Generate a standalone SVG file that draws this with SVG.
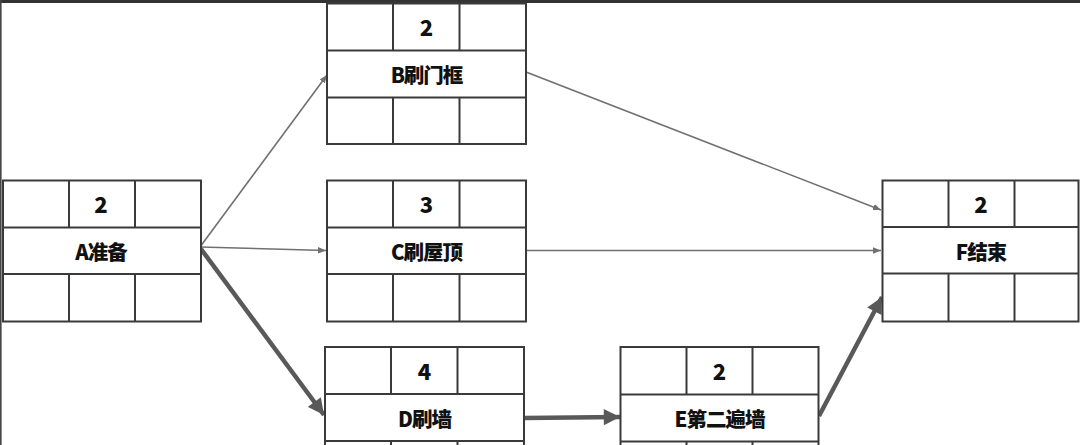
<svg xmlns="http://www.w3.org/2000/svg" width="1080" height="445" viewBox="0 0 1080 445">
<defs>
<style>
.box{fill:#fff;stroke:#3a3a3a;stroke-width:2}
.grid{stroke:#3a3a3a;stroke-width:2;fill:none}
.num{font-family:"Noto Sans CJK SC","Liberation Sans",sans-serif;font-weight:900;font-size:22px;fill:#111;text-anchor:middle;dominant-baseline:central}
.name{font-family:"Noto Sans CJK SC","Liberation Sans",sans-serif;font-weight:900;font-size:20.5px;fill:#111;text-anchor:middle;dominant-baseline:central;letter-spacing:-1px}
.thin{stroke:#707070;stroke-width:1.6;fill:none}
.thick{stroke:#595959;stroke-width:4.5;fill:none}
</style>
<marker id="ah" viewBox="0 0 10 10" refX="10" refY="5" markerWidth="5" markerHeight="5" orient="auto" markerUnits="strokeWidth">
<path d="M0,1 L10,5 L0,9 z" fill="#707070"/>
</marker>
<marker id="ahT" viewBox="0 0 10 10" refX="10" refY="5" markerWidth="4" markerHeight="3.6" orient="auto" markerUnits="strokeWidth">
<path d="M0,0 L10,5 L0,10 z" fill="#595959"/>
</marker>
</defs>
<rect x="0" y="0" width="1080" height="445" fill="#fff"/>
<rect x="0" y="0" width="1080" height="3" fill="#333"/>
<rect x="0" y="0" width="1.6" height="445" fill="#444"/>

<g id="connectors">
<line class="thin" x1="200" y1="247" x2="327" y2="75" marker-end="url(#ah)"/>
<line class="thin" x1="200" y1="247" x2="326" y2="250.5" marker-end="url(#ah)"/>
<line class="thin" x1="526" y1="72" x2="881" y2="210" marker-end="url(#ah)"/>
<line class="thin" x1="526" y1="250.5" x2="881" y2="250.5" marker-end="url(#ah)"/>
<line class="thick" x1="201" y1="249" x2="324" y2="415" marker-end="url(#ahT)"/>
<line class="thick" x1="524" y1="418" x2="620" y2="417" marker-end="url(#ahT)"/>
<line class="thick" x1="819" y1="416" x2="882" y2="297" marker-end="url(#ahT)"/>
</g>

<g id="node-A">
<rect class="box" x="3" y="180.5" width="198" height="141"/>
<path class="grid" d="M3,227.5H201M3,274H201M69,180.5V227.5M135,180.5V227.5M69,274V321.5M135,274V321.5"/>
<text class="num" x="101" y="203">2</text>
<text class="name" x="101" y="251">A准备</text>
</g>

<g id="node-B">
<rect class="box" x="327" y="3.5" width="199" height="140.5"/>
<path class="grid" d="M327,50.5H526M327,97.5H526M393,3.5V50.5M459.5,3.5V50.5M393,97.5V144M459.5,97.5V144"/>
<text class="num" x="426.5" y="26">2</text>
<text class="name" x="426.5" y="74">B刷门框</text>
</g>

<g id="node-C">
<rect class="box" x="327" y="180.5" width="199" height="141"/>
<path class="grid" d="M327,227.5H526M327,274H526M393,180.5V227.5M459.5,180.5V227.5M393,274V321.5M459.5,274V321.5"/>
<text class="num" x="426.5" y="203">3</text>
<text class="name" x="426.5" y="251">C刷屋顶</text>
</g>

<g id="node-D">
<rect class="box" x="325" y="347" width="199" height="110"/>
<path class="grid" d="M325,394H524M325,441H524M391,347V394M457.5,347V394M391,441V457M457.5,441V457"/>
<text class="num" x="424.5" y="370">4</text>
<text class="name" x="424.5" y="418">D刷墙</text>
</g>

<g id="node-E">
<rect class="box" x="620.5" y="347" width="198" height="110"/>
<path class="grid" d="M620.5,394.5H818.5M620.5,441.5H818.5M686.5,347V394.5M752.5,347V394.5M686.5,441.5V457M752.5,441.5V457"/>
<text class="num" x="719.5" y="370">2</text>
<text class="name" x="719.5" y="418">E第二遍墙</text>
</g>

<g id="node-F">
<rect class="box" x="882.5" y="180.5" width="196" height="141"/>
<path class="grid" d="M882.5,227H1078.5M882.5,273.5H1078.5M948.5,180.5V227M1014.5,180.5V227M948.5,273.5V321.5M1014.5,273.5V321.5"/>
<text class="num" x="981" y="203">2</text>
<text class="name" x="981" y="251">F结束</text>
</g>
</svg>
